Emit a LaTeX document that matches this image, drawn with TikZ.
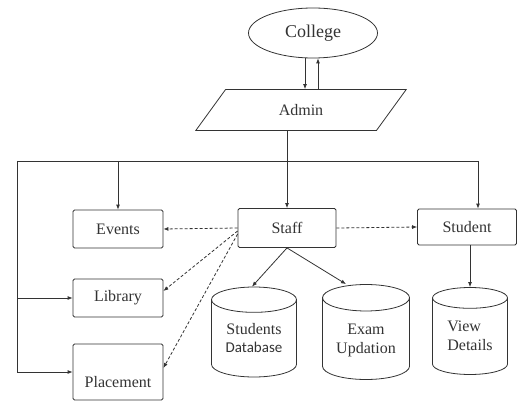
\documentclass[tikz,border=0pt]{standalone}
\usepackage{fontspec}
\setmainfont{Liberation Serif}
\newfontfamily\dbfont{Carlito}
\usetikzlibrary{shapes.geometric,arrows.meta}

\begin{document}
\begin{tikzpicture}[x=1pt,y=-1pt,line width=0.8pt,color=black!80,
	every node/.style={font=\fontsize{16}{19}\selectfont},
	box/.style={draw,rounded corners=1.5pt,minimum width=90pt,minimum height=38pt},
	dbase/.style={draw,cylinder,shape border rotate=90,aspect=0.4,align=center,text depth=6pt},
	arr/.style={-{Latex[length=5pt,width=4pt]}},
	dsh/.style={arr,dash pattern=on 3pt off 2pt}]
	\useasboundingbox (0,0) rectangle (518,403);
	\node[draw,ellipse,minimum width=129pt,minimum height=50pt,font=\fontsize{18}{20}\selectfont] (college) at (313,33) {College};
	\node[draw,trapezium,trapezium left angle=54,trapezium right angle=126,minimum height=41pt,text width=46pt,align=center,inner xsep=10pt] (admin) at (301,110) {Admin};
	\node[box] (events) at (118,229) {Events\hspace{30pt}};
	\node[box] (library) at (118,298) {Library};
	\node[box,minimum height=56pt,text height=31pt,text depth=0pt] (placement) at (118,372) {Placement};
	\node[box,minimum width=98pt,minimum height=39pt] (staff) at (287,228) {Staff};
	\node[box,minimum width=99pt,minimum height=36pt] (student) at (467,227) {Student\hspace{14pt}};
	\node[dbase,minimum width=85pt,minimum height=90pt,anchor=shape center] (sdb) at (254,332) {Students\\[-1pt]{\dbfont\fontsize{15}{17}\selectfont Database}};
	\node[dbase,minimum width=87pt,minimum height=95pt,anchor=shape center] (exam) at (366,332) {Exam\\Updation};
	\node[dbase,align=left,minimum width=75pt,minimum height=87pt,anchor=shape center] (view) at (470,331) {View\\Details};
	% college and admin
	\draw[arr] ([xshift=-8pt]college.south) -- ([xshift=-8pt]college.south |- admin.north);
	\draw[arr] ([xshift=5pt]college.south |- admin.north) -- ([xshift=5pt]college.south);
	% bus line
	\coordinate (busL) at (17,161);
	\coordinate (busR) at (478,161);
	\draw (busL) -- (busR);
	\draw[arr] (staff.north |- admin.south) -- (staff.north);
	\draw[arr] (events.north |- busL) -- (events.north);
	\draw[arr] (busR) -- (busR |- student.north);
	\draw[arr] (busL) |- (placement.west);
	\draw[arr] (busL |- library.west) -- (library.west);
	% dashed links
	\draw[dsh] (staff.west) -- (events.east);
	\draw[dsh] ([yshift=-3pt]staff.west) -- ([yshift=7pt]library.east);
	\draw[dsh] ([yshift=-6pt]staff.west) -- ([yshift=4pt]placement.east);
	\draw[dsh] (staff.east) -- (student.west);
	% databases
	\draw[arr] (staff.south) -- ([xshift=-2pt]sdb.north);
	\draw[arr] (staff.south) -- ([xshift=-20pt]exam.north);
	\draw[arr] (view.north |- student.south) -- (view.north);
\end{tikzpicture}
\end{document}
